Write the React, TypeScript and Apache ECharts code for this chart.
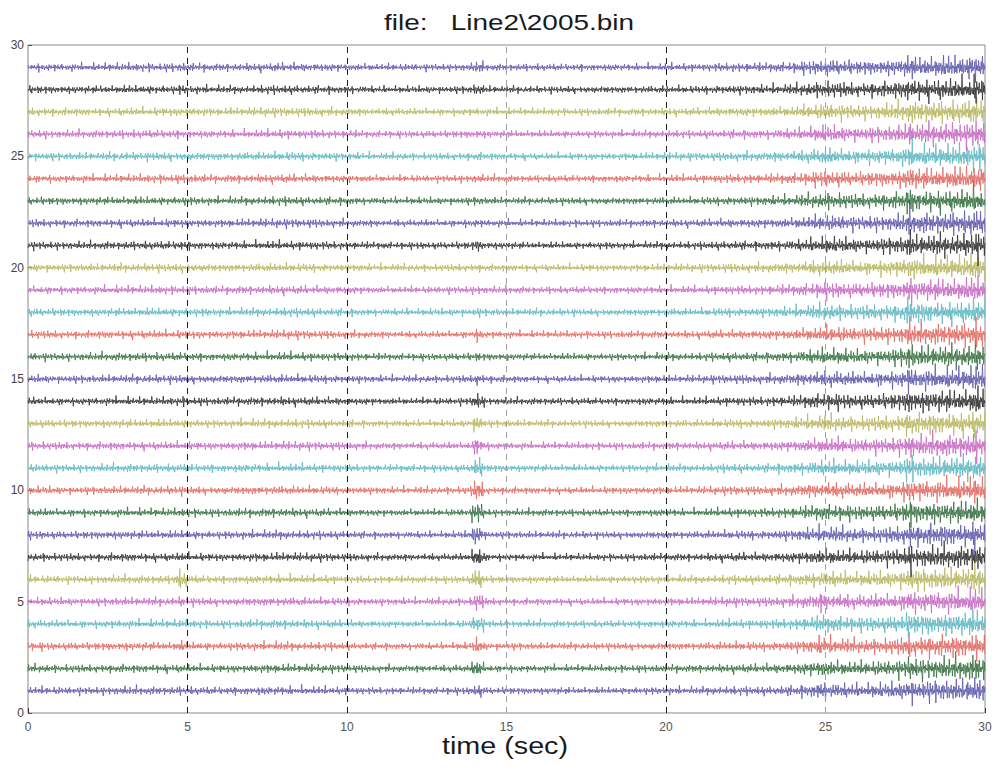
import React, { useEffect, useRef } from "react";
import * as echarts from "echarts";

// ---- data ----
const TITLE = "file:   Line2\\2005.bin";
const X_LABEL = "time (sec)";
const X_TICKS = [0, 5, 10, 15, 20, 25, 30];
const Y_TICKS = [0, 5, 10, 15, 20, 25, 30];
// dashed vertical grid lines (x in s) and their printed tone
const GRID_X = [5, 10, 15, 20, 25];
const GRID_TONE = ["#1e1e1e", "#1e1e1e", "#a0a0a0", "#1e1e1e", "#a0a0a0"];

// trace baselines (one trace per channel)
const TRACE_OFFSETS = [1, 2, 3, 4, 5, 6, 7, 8, 9, 10, 11, 12, 13, 14, 15, 16, 17, 18, 19, 20, 21, 22, 23, 24, 25, 26, 27, 28, 29];
const COLOR_CYCLE = ["#5a52a8", "#2f6a3a", "#e0645c", "#58b4be", "#c464c0", "#b4b45a", "#2a2a2a"];

// background amplitude envelope (y units), one value per second 0..30
const BASE_ENVELOPE = [0.13, 0.12, 0.12, 0.13, 0.13, 0.13, 0.12, 0.13, 0.14, 0.13, 0.12, 0.11, 0.11, 0.11, 0.12, 0.11, 0.11, 0.11, 0.11, 0.11, 0.12, 0.12, 0.14, 0.14, 0.17, 0.26, 0.22, 0.25, 0.33, 0.35, 0.38];

// events: time (s), half-width (s)
const EVENT_TIMES = [14.1, 4.8, 27.65, 29.7, 24.9];
const EVENT_WIDTHS = [0.3, 0.3, 0.22, 0.25, 0.35];
// event amplitude per trace (trace 1..29)
const EVENT_14S = [0.22, 0.3, 0.25, 0.3, 0.3, 0.34, 0.36, 0.34, 0.36, 0.34, 0.34, 0.3, 0.27, 0.27, 0.2, 0.15, 0.2, 0.15, 0.15, 0.13, 0.2, 0.15, 0.15, 0.15, 0.14, 0.14, 0.13, 0.2, 0.2];
const EVENT_5S = [0.14, 0.14, 0.18, 0.15, 0.16, 0.32, 0.16, 0.14, 0.14, 0.14, 0.14, 0.14, 0.14, 0.16, 0.14, 0.14, 0.14, 0.14, 0.14, 0.14, 0.16, 0.14, 0.14, 0.14, 0.14, 0.14, 0.14, 0.16, 0.16];
const EVENT_27S = [0.44, 0.44, 0.44, 0.46, 0.48, 0.46, 0.48, 0.48, 0.48, 0.48, 0.48, 0.48, 0.46, 0.48, 0.48, 0.48, 0.48, 0.48, 0.48, 0.46, 0.48, 0.48, 0.48, 0.46, 0.46, 0.44, 0.42, 0.46, 0.44];
const EVENT_29S = [0.48, 0.48, 0.46, 0.48, 0.5, 0.48, 0.5, 0.5, 0.48, 0.48, 0.48, 0.5, 0.48, 0.5, 0.48, 0.48, 0.5, 0.48, 0.48, 0.48, 0.5, 0.48, 0.5, 0.48, 0.48, 0.48, 0.46, 0.48, 0.52];
const EVENT_25S = [0.32, 0.3, 0.32, 0.28, 0.32, 0.26, 0.26, 0.24, 0.26, 0.24, 0.24, 0.24, 0.22, 0.22, 0.22, 0.22, 0.22, 0.22, 0.22, 0.21, 0.22, 0.22, 0.24, 0.22, 0.21, 0.21, 0.21, 0.21, 0.22];
const EVENT_AMPS = [EVENT_14S, EVENT_5S, EVENT_27S, EVENT_29S, EVENT_25S];

// hand-typed wiggle shape and its modulation (normalised)
const WIGGLE_A = [0.35, -0.62, 0.18, -0.27, 0.81, -0.44, 0.12, -0.9, 0.53, -0.08, 0.29, -0.55, 0.71, -0.33, 0.05, -0.21, 0.64, -0.77, 0.4, -0.15, 0.22, -0.48, 0.95, -0.36, 0.1, -0.6, 0.3, -0.12, 0.58, -0.83, 0.46, -0.25, 0.16, -0.4, 0.69, -0.52, 0.2];
const WIGGLE_B = [0.3, 0.55, 0.1, 0.42, 0.68, 0.15, 0.5, 0.77, 0.2, 0.35, 0.85, 0.25, 0.05, 0.6, 0.4, 0.1, 0.72, 0.48, 0.18, 0.3, 0.58, 0.88, 0.26, 0.12, 0.64, 0.08, 0.38, 0.95, 0.22];

const SAMPLE_STEP = 0.02;
const DURATION = 30;
const CARRIER_GAIN = 1.75;

function envelopeAt(t: number, k: number): number {
  const i = Math.min(Math.floor(t), BASE_ENVELOPE.length - 2);
  const f = t - i;
  let a = BASE_ENVELOPE[i] * (1 - f) + BASE_ENVELOPE[i + 1] * f;
  for (let e = 0; e < EVENT_TIMES.length; e++) {
    const d = Math.abs(t - EVENT_TIMES[e]) / EVENT_WIDTHS[e];
    if (d < 1) {
      const v = EVENT_AMPS[e][k] * (1 - d * d);
      if (v > a) a = v;
    }
  }
  return a;
}

function buildTrace(k: number): number[][] {
  const pts: number[][] = [];
  const n = Math.round(DURATION / SAMPLE_STEP);
  for (let i = 0; i <= n; i++) {
    const t = i * SAMPLE_STEP;
    const mod = WIGGLE_B[(Math.floor(i / 3) + 7 * k) % WIGGLE_B.length];
    const w = WIGGLE_A[(i + 11 * k) % WIGGLE_A.length] * (0.35 + 1.0 * mod);
    pts.push([t, TRACE_OFFSETS[k] + CARRIER_GAIN * envelopeAt(t, k) * w]);
  }
  return pts;
}

export default function App() {
  const ref = useRef<HTMLDivElement>(null);
  useEffect(() => {
    document.body.style.margin = "0";
    if (!ref.current) return;
    const chart = echarts.init(ref.current, undefined, { renderer: "svg" });
    const font = "'Liberation Sans', Arial, sans-serif";
    const series: any[] = TRACE_OFFSETS.map((_, k) => ({
      type: "line",
      data: buildTrace(k),
      showSymbol: false,
      symbol: "none",
      silent: true,
      lineStyle: { color: COLOR_CYCLE[k % COLOR_CYCLE.length], width: 0.9, opacity: 0.85 },
      z: 3,
    }));
    series.unshift({
      type: "line",
      data: [],
      silent: true,
      z: 2,
      markLine: {
        silent: true,
        symbol: "none",
        animation: false,
        label: { show: false },
        data: GRID_X.map((x, i) => ({
          xAxis: x,
          lineStyle: { type: [6, 5], width: 1, color: GRID_TONE[i] },
        })),
      },
    });
    chart.setOption({
      animation: false,
      backgroundColor: "#ffffff",
      grid: {
        left: 28,
        right: 10,
        top: 45,
        bottom: 58,
        show: true,
        borderColor: "#8a8a8a",
        borderWidth: 1,
        backgroundColor: "transparent",
      },
      xAxis: {
        type: "value",
        min: X_TICKS[0],
        max: X_TICKS[X_TICKS.length - 1],
        interval: 5,
        axisLine: { show: false },
        axisTick: { show: true, inside: true, length: 5, lineStyle: { color: "#333" } },
        axisLabel: { color: "#555", fontSize: 12, fontFamily: font, margin: 8 },
        splitLine: { show: false },
      },
      yAxis: {
        type: "value",
        min: Y_TICKS[0],
        max: Y_TICKS[Y_TICKS.length - 1],
        interval: 5,
        axisLine: { show: false },
        axisTick: { show: true, inside: true, length: 4, lineStyle: { color: "#555" } },
        axisLabel: { color: "#444", fontSize: 12, fontFamily: font, margin: 4 },
        splitLine: { show: false },
      },
      graphic: [
        {
          type: "text",
          x: 509,
          y: 22,
          scaleX: 1.27,
          style: {
            text: TITLE,
            fill: "#1a1a1a",
            font: `22px ${font}`,
            textAlign: "center",
            textVerticalAlign: "middle",
          },
        },
        {
          type: "text",
          x: 505,
          y: 746,
          scaleX: 1.25,
          style: {
            text: X_LABEL,
            fill: "#1a1a1a",
            font: `23px ${font}`,
            textAlign: "center",
            textVerticalAlign: "middle",
          },
        },
      ],
      series,
    });
    return () => chart.dispose();
  }, []);
  return <div ref={ref} style={{ width: 995, height: 771 }} />;
}
